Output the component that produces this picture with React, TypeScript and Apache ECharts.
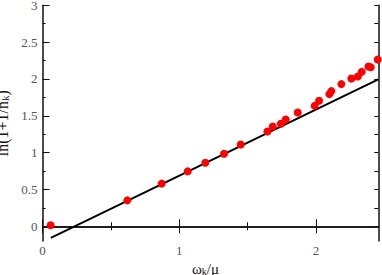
import React, { useEffect, useRef } from "react";
import * as echarts from "echarts";

const pointX = [0.059, 0.62, 0.871, 1.061, 1.19, 1.327, 1.449, 1.644, 1.683, 1.742, 1.778, 1.866, 1.99, 2.022, 2.097, 2.112, 2.185, 2.258, 2.305, 2.334, 2.383, 2.4, 2.451];
const pointY = [0.014, 0.352, 0.579, 0.745, 0.863, 0.985, 1.111, 1.287, 1.355, 1.392, 1.45, 1.545, 1.635, 1.703, 1.794, 1.835, 1.93, 2.005, 2.033, 2.096, 2.168, 2.16, 2.263];
const lineX = [0.06, 2.455];
const lineY = [-0.157, 1.995];
const xMajor = [0, 1, 2];
const xMinor = [0.5, 1.5];
const yMajor = [0, 0.5, 1, 1.5, 2, 2.5, 3];
const yMinor = [0.25, 0.75, 1.25, 1.75, 2.25, 2.75];

const FONT = "Liberation Serif";
const AX = "#111";

export default function App() {
  const ref = useRef<HTMLDivElement>(null);
  useEffect(() => {
    const chart = echarts.init(ref.current!, undefined, { renderer: "svg" });
    const mkX = (pos: string, ticks: number[], len: number, labels: boolean, line: boolean, extra: any = {}) => ({
      type: "value",
      position: pos,
      min: 0,
      max: 2.455,
      splitLine: { show: false },
      axisLine: { show: line, lineStyle: { color: AX, width: 1.5 } },
      axisTick: { show: true, inside: true, length: len, customValues: ticks, lineStyle: { color: AX, width: 1 } },
      axisLabel: labels
        ? { customValues: ticks, fontFamily: FONT, fontSize: 13, margin: 3 }
        : { show: false },
      ...extra,
    });
    const mkY = (pos: string, ticks: number[], len: number, labels: boolean, line: boolean, extra: any = {}) => ({
      type: "value",
      position: pos,
      min: -0.2,
      max: 3,
      splitLine: { show: false },
      axisLine: { show: line, onZero: false, lineStyle: { color: AX, width: 1.5 } },
      axisTick: { show: true, inside: true, length: len, customValues: ticks, lineStyle: { color: AX, width: 1 } },
      axisLabel: labels
        ? { customValues: ticks, fontFamily: FONT, fontSize: 13, margin: 5 }
        : { show: false },
      ...extra,
    });
    const richX = {
      a: { fontFamily: FONT, fontSize: 15, lineHeight: 15 },
      s: { fontFamily: FONT, fontSize: 10, lineHeight: 10, verticalAlign: "bottom" },
    };
    const richY = {
      a: { fontFamily: FONT, fontSize: 16, lineHeight: 16 },
      s: { fontFamily: FONT, fontSize: 11, lineHeight: 11, verticalAlign: "bottom" },
    };
    chart.setOption({
      animation: false,
      textStyle: { fontFamily: FONT },
      grid: { left: 42.6, right: 3.7, top: 5.3, bottom: 34, containLabel: false, outerBoundsMode: "none" },
      xAxis: [
        mkX("bottom", xMajor, 7, true, true, {
          name: "{a|ω}{s|k}{a|/μ}",
          nameLocation: "middle",
          nameGap: 11,
          nameTextStyle: { fontFamily: FONT, fontSize: 15, padding: [0, 10, 0, 0], rich: richX },
        }),
        mkX("bottom", xMinor, 4, false, false),
        mkX("top", xMajor, 7, false, true),
        mkX("top", xMinor, 4, false, false),
      ],
      yAxis: [
        mkY("left", yMajor, 7, true, true, {
          name: "{a|ln(1+1/n}{s|k}{a|)}",
          nameLocation: "middle",
          nameGap: 23,
          nameRotate: 90,
          nameTextStyle: { fontFamily: FONT, fontSize: 16, rich: richY },
        }),
        mkY("left", yMinor, 3, false, false),
        mkY("right", yMajor, 4, false, true),
        mkY("right", yMinor, 4, false, false),
      ],
      series: [
        {
          type: "line",
          xAxisIndex: 0,
          yAxisIndex: 0,
          data: lineX.map((x, i) => [x, lineY[i]]),
          showSymbol: false,
          symbol: "none",
          lineStyle: { color: "#000", width: 2 },
          z: 2,
        },
        {
          type: "scatter",
          xAxisIndex: 0,
          yAxisIndex: 0,
          data: pointX.map((x, i) => [x, pointY[i]]),
          symbol: "circle",
          symbolSize: 8,
          itemStyle: { color: "#ff0000", opacity: 1 },
          z: 3,
        },
      ],
    });
    return () => chart.dispose();
  }, []);
  return <div ref={ref} style={{ width: 382, height: 275, position: "absolute", left: 0, top: 0 }} />;
}
